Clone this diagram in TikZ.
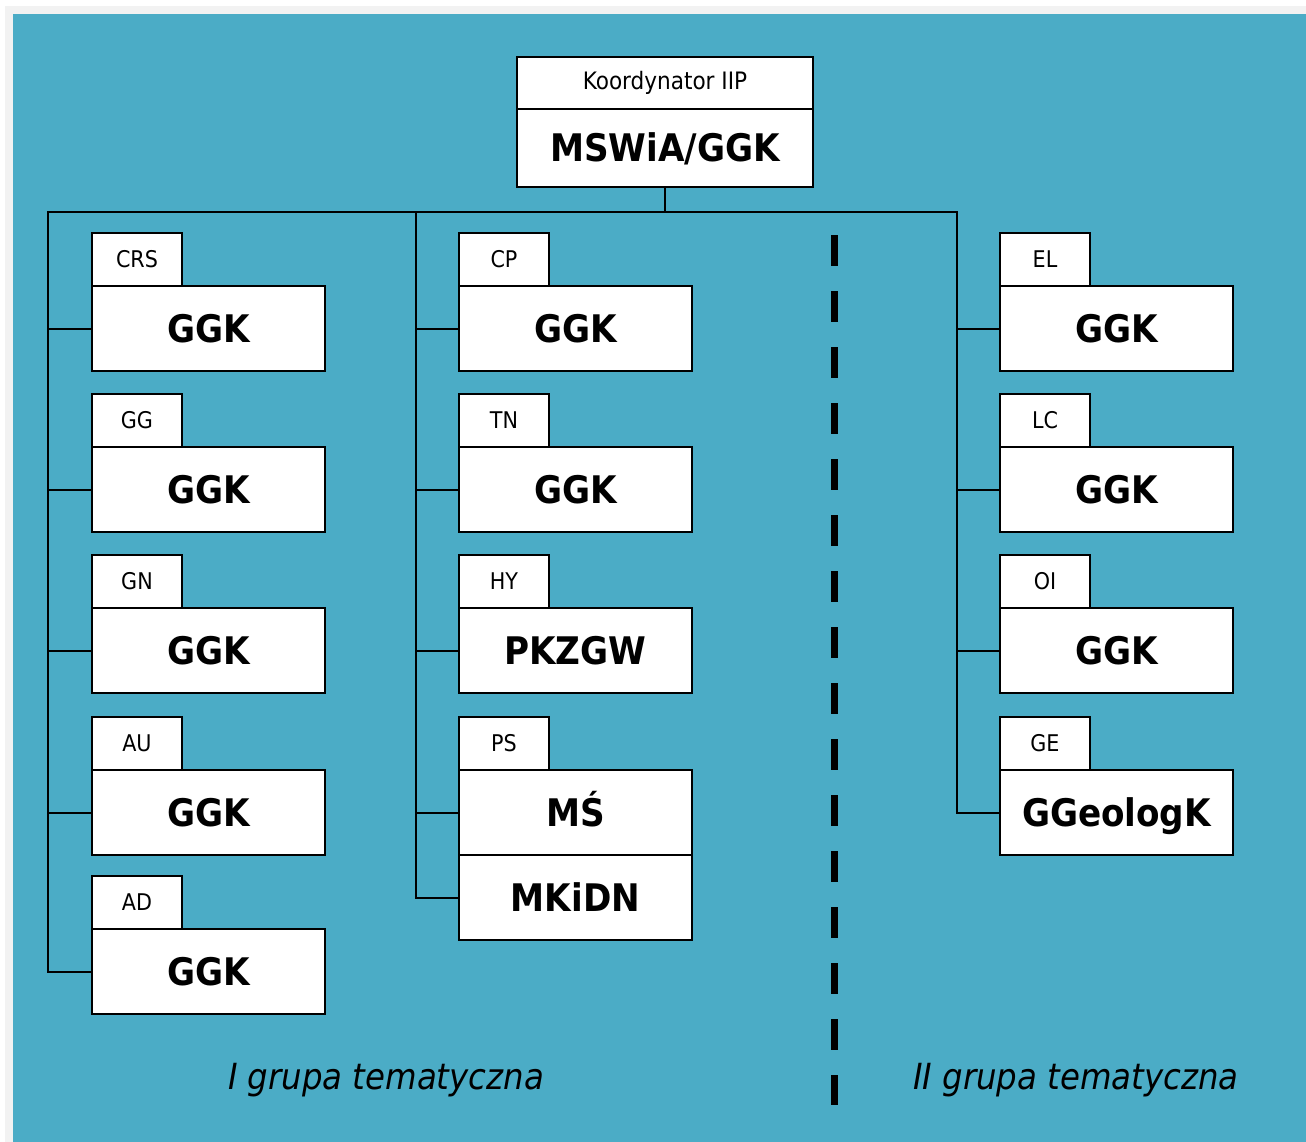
\documentclass[tikz,border=0pt]{standalone}
\usepackage{fontspec}
\setmainfont{DejaVu Sans Condensed}
\usepackage{tikz}
\usetikzlibrary{positioning}
\definecolor{seablue}{RGB}{75,172,198}
\definecolor{edgegray}{RGB}{242,242,242}

\begin{document}
\begin{tikzpicture}[x=1pt, y=-1pt,
  box/.style={draw, fill=white, line width=2pt, inner sep=0pt, outer sep=0pt, anchor=north west},
  tab/.style={box, anchor=south west, minimum width=90pt, minimum height=53pt, font=\fontsize{23}{25}\selectfont},
  unit/.style={box, minimum width=233pt, minimum height=85pt, font=\fontsize{38}{42}\selectfont\bfseries, text height=28pt, text depth=0pt},
  link/.style={line width=2pt},
  group/.style={font=\fontsize{36}{40}\selectfont\itshape, text height=26pt, text depth=0pt}]
  \useasboundingbox (0,0) rectangle (1306,1142);
  \fill[white] (0,0) rectangle (1306,1142);
  \fill[edgegray] (5,6) rectangle (1306,1142);
  \fill[seablue] (13,14) rectangle (1306,1142);

  % coordinator
  \node[box, minimum width=296pt, minimum height=52pt, font=\fontsize{24}{26}\selectfont] (koord) at (517,57) {Koordynator IIP};
  \node[box, minimum width=296pt, minimum height=78pt, font=\fontsize{38}{42}\selectfont\bfseries, text height=28pt, text depth=0pt] (mswia) at (517,109) {MSWiA/GGK};

  \coordinate (bl) at (48,212);
  \coordinate (bm) at (416,212);
  \coordinate (br) at (957,212);

  % I grupa, left
  \node[unit] (crs) at (92,286) {GGK};
  \node[tab] (crs-tab) at (crs.north west) {CRS};
  \node[unit] (gg) at (92,447) {GGK};
  \node[tab] (gg-tab) at (gg.north west) {GG};
  \node[unit] (gn) at (92,608) {GGK};
  \node[tab] (gn-tab) at (gn.north west) {GN};
  \node[unit] (au) at (92,770) {GGK};
  \node[tab] (au-tab) at (au.north west) {AU};
  \node[unit] (ad) at (92,929) {GGK};
  \node[tab] (ad-tab) at (ad.north west) {AD};

  % I grupa, middle
  \node[unit] (cp) at (459,286) {GGK};
  \node[tab] (cp-tab) at (cp.north west) {CP};
  \node[unit] (tn) at (459,447) {GGK};
  \node[tab] (tn-tab) at (tn.north west) {TN};
  \node[unit] (hy) at (459,608) {PKZGW};
  \node[tab] (hy-tab) at (hy.north west) {HY};
  \node[unit] (ms) at (459,770) {MŚ};
  \node[tab] (ps-tab) at (ms.north west) {PS};
  \node[unit] (mkidn) at (ms.south west) {MKiDN};

  % II grupa
  \node[unit] (el) at (1000,286) {GGK};
  \node[tab] (el-tab) at (el.north west) {EL};
  \node[unit] (lc) at (1000,447) {GGK};
  \node[tab] (lc-tab) at (lc.north west) {LC};
  \node[unit] (oi) at (1000,608) {GGK};
  \node[tab] (oi-tab) at (oi.north west) {OI};
  \node[unit] (ge) at (1000,770) {GGeologK};
  \node[tab] (ge-tab) at (ge.north west) {GE};

  % tree
  \draw[link] (mswia.south) -- (mswia.south |- bl);
  \draw[link] (ad.west) -| (bl) -- (br) |- (ge.west);
  \draw[link] (bm) |- (mkidn.west);
  \path[link]
    (bl |- crs.west) edge (crs.west)
    (bl |- gg.west) edge (gg.west)
    (bl |- gn.west) edge (gn.west)
    (bl |- au.west) edge (au.west)
    (bm |- cp.west) edge (cp.west)
    (bm |- tn.west) edge (tn.west)
    (bm |- hy.west) edge (hy.west)
    (bm |- ms.west) edge (ms.west)
    (br |- el.west) edge (el.west)
    (br |- lc.west) edge (lc.west)
    (br |- oi.west) edge (oi.west);

  % divider
  \coordinate (d1) at (834,235);
  \coordinate (d2) at (834,1105);
  \draw[line width=7pt, dash pattern=on 31pt off 25pt] (d1) -- (d2);

  \node[group] (g1) at (386,1076) {I grupa tematyczna};
  \node[group] (g2) at (1076,1076) {II grupa tematyczna};
\end{tikzpicture}
\end{document}
